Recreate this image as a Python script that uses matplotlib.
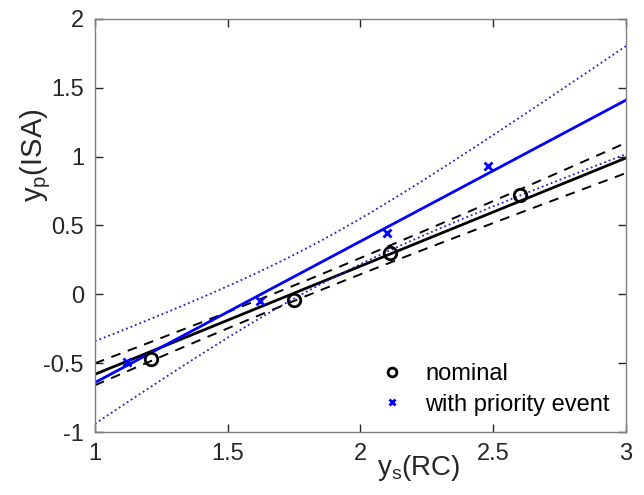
import numpy as np
import matplotlib
matplotlib.use("Agg")
import matplotlib.pyplot as plt

plt.rcParams['font.family'] = ['Liberation Sans', 'DejaVu Sans']

# nominal data points
x_nom = [1.21, 1.75, 2.11, 2.60]
y_nom = [-0.47, -0.04, 0.30, 0.72]

# priority event data points
x_pri = [1.12, 1.62, 2.10, 2.48]
y_pri = [-0.49, -0.05, 0.445, 0.93]

# fitted lines: value at x=1 and x=3
fit_nom = [-0.58, 0.99]
fit_pri = [-0.64, 1.41]

# confidence bands: (centre x, min half width, growth)
band_nom = (1.75, 0.056, 0.0755)
band_pri = (1.83, 0.157, 0.307)


def line(fit, x):
    return fit[0] + (fit[1] - fit[0]) * (x - 1) / 2.0


def halfwidth(band, x):
    x0, h0, g = band
    return np.sqrt(h0 ** 2 + (g * (x - x0)) ** 2)


xx = np.linspace(1, 3, 200)

fig = plt.figure(figsize=(6.44, 4.95), dpi=100)
ax = fig.add_axes([0.1475, 0.127, 0.8245, 0.835])

# black fit and bands
ax.plot(xx, line(fit_nom, xx), color='k', lw=2)
ax.plot(xx, line(fit_nom, xx) + halfwidth(band_nom, xx), 'k--', lw=1.4, dashes=(5, 4))
ax.plot(xx, line(fit_nom, xx) - halfwidth(band_nom, xx), 'k--', lw=1.4, dashes=(5, 4))

# blue fit and bands
ax.plot(xx, line(fit_pri, xx), color='#0000ff', lw=2)
ax.plot(xx, line(fit_pri, xx) + halfwidth(band_pri, xx), ':', color='#2020c0', lw=1.3)
ax.plot(xx, line(fit_pri, xx) - halfwidth(band_pri, xx), ':', color='#2020c0', lw=1.3)

# points
ax.plot(x_nom, y_nom, 'o', mfc='none', mec='k', mew=2, ms=9, label='nominal')
ax.plot(x_pri, y_pri, 'x', color='#0000ff', mew=2, ms=6, label='with priority event')

ax.set_xlim(1, 3)
ax.set_ylim(-1, 2)
ax.set_xticks([1, 1.5, 2, 2.5, 3])
ax.set_xticklabels(['1', '1.5', '2', '2.5', '3'])
ax.set_yticks([-1, -0.5, 0, 0.5, 1, 1.5, 2])
ax.set_yticklabels(['-1', '-0.5', '0', '0.5', '1', '1.5', '2'])
ax.tick_params(direction='in', length=6, width=1, top=True, right=True,
               labelsize=17, colors='#262626', pad=8)
for s in ax.spines.values():
    s.set_color('#808080')
    s.set_linewidth(1)

ax.set_xlabel(r'$\mathregular{y_s}$(RC)', fontsize=20, color='#262626')
ax.set_ylabel(r'$\mathregular{y_p}$(ISA)', fontsize=21, color='#262626')
ax.xaxis.set_label_coords(0.61, -0.05)
ax.yaxis.set_label_coords(-0.08, 0.67)

leg = ax.legend(loc='lower right', frameon=False, fontsize=17, markerscale=0.7,
                handlelength=1.2, handletextpad=0.8, labelspacing=0.35,
                borderaxespad=0.3)

fig.savefig('out.png', dpi=100)
